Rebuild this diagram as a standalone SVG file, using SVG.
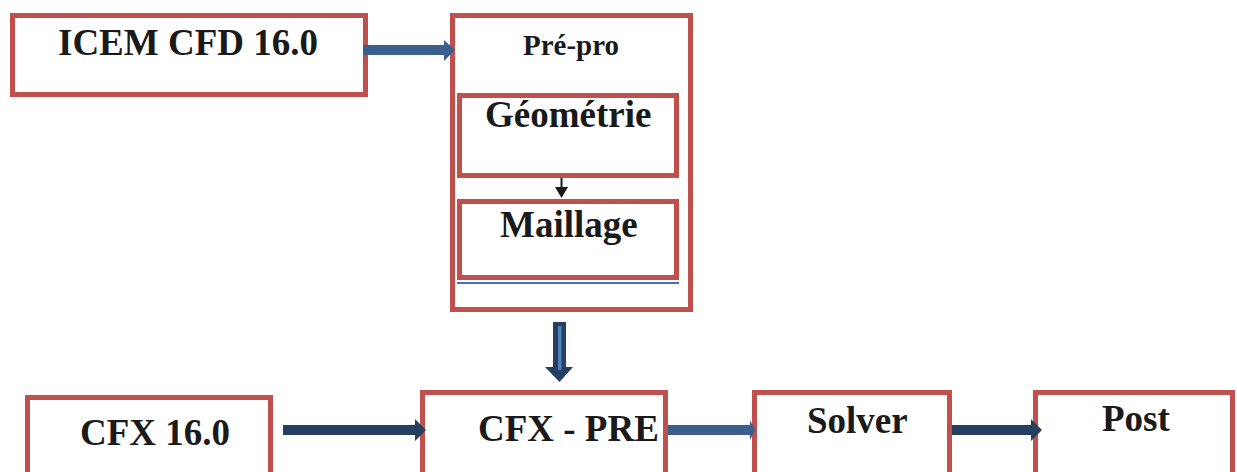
<svg xmlns="http://www.w3.org/2000/svg" width="1237" height="472" viewBox="0 0 1237 472">
<style>
.box{fill:#ffffff;stroke:#C0504D;stroke-width:5}
.lbl{font-family:"Liberation Serif","Times New Roman",serif;font-weight:bold;fill:#1a1a1a;font-size:37px}
.navy{fill:#243F60}
.blue{fill:#3B5E8C}
</style>
<rect width="1237" height="472" fill="#ffffff"/>
<g id="node-icem">
<rect class="box" x="12.5" y="15.5" width="353" height="79"/>
<text class="lbl" x="58" y="55">ICEM CFD 16.0</text>
</g>
<g id="node-prepro">
<rect class="box" x="452.5" y="15.5" width="238" height="294"/>
<text class="lbl" x="523" y="55" style="font-size:29px">Pré-pro</text>
</g>
<g id="node-geometrie">
<rect class="box" x="459.5" y="95.5" width="217" height="80"/>
<text class="lbl" x="485" y="127">Géométrie</text>
</g>
<g id="node-maillage">
<rect class="box" x="459.5" y="201.5" width="217" height="76"/>
<line x1="457" y1="283" x2="679" y2="283" stroke="#4472C4" stroke-width="2"/>
<text class="lbl" x="500" y="237">Maillage</text>
</g>
<g id="node-cfx160">
<rect class="box" x="27.5" y="397.5" width="243" height="85"/>
<text class="lbl" x="80" y="445">CFX 16.0</text>
</g>
<g id="node-cfxpre">
<rect class="box" x="422.5" y="392.5" width="243" height="90"/>
<text class="lbl" x="478" y="441">CFX - PRE</text>
</g>
<g id="node-solver">
<rect class="box" x="754.5" y="392.5" width="195" height="90"/>
<text class="lbl" x="807" y="433">Solver</text>
</g>
<g id="node-post">
<rect class="box" x="1035.5" y="392.5" width="197" height="90"/>
<text class="lbl" x="1102" y="431">Post</text>
</g>
<g id="connectors">
<polygon class="blue" points="363,45 444,45 444,40 455,50 444,61 444,55 363,55"/>
<line x1="561.5" y1="178" x2="561.5" y2="188" stroke="#1a1a1a" stroke-width="2"/>
<polygon fill="#1a1a1a" points="555,187 568,187 561.5,198"/>
<polygon class="navy" points="553,322 566,322 566,367 573,367 559.5,382 545,367 553,367"/>
<rect x="558" y="326" width="3.5" height="44" fill="#4F81BD"/>
<polygon class="navy" points="283,425 415,425 415,419 426,430 415,441 415,435 283,435"/>
<polygon class="blue" points="668,425 750,425 750,420 755,430 750,440 750,435 668,435"/>
<polygon class="navy" points="952,425 1031,425 1031,419 1042,430 1031,441 1031,435 952,435"/>
</g>
</svg>
